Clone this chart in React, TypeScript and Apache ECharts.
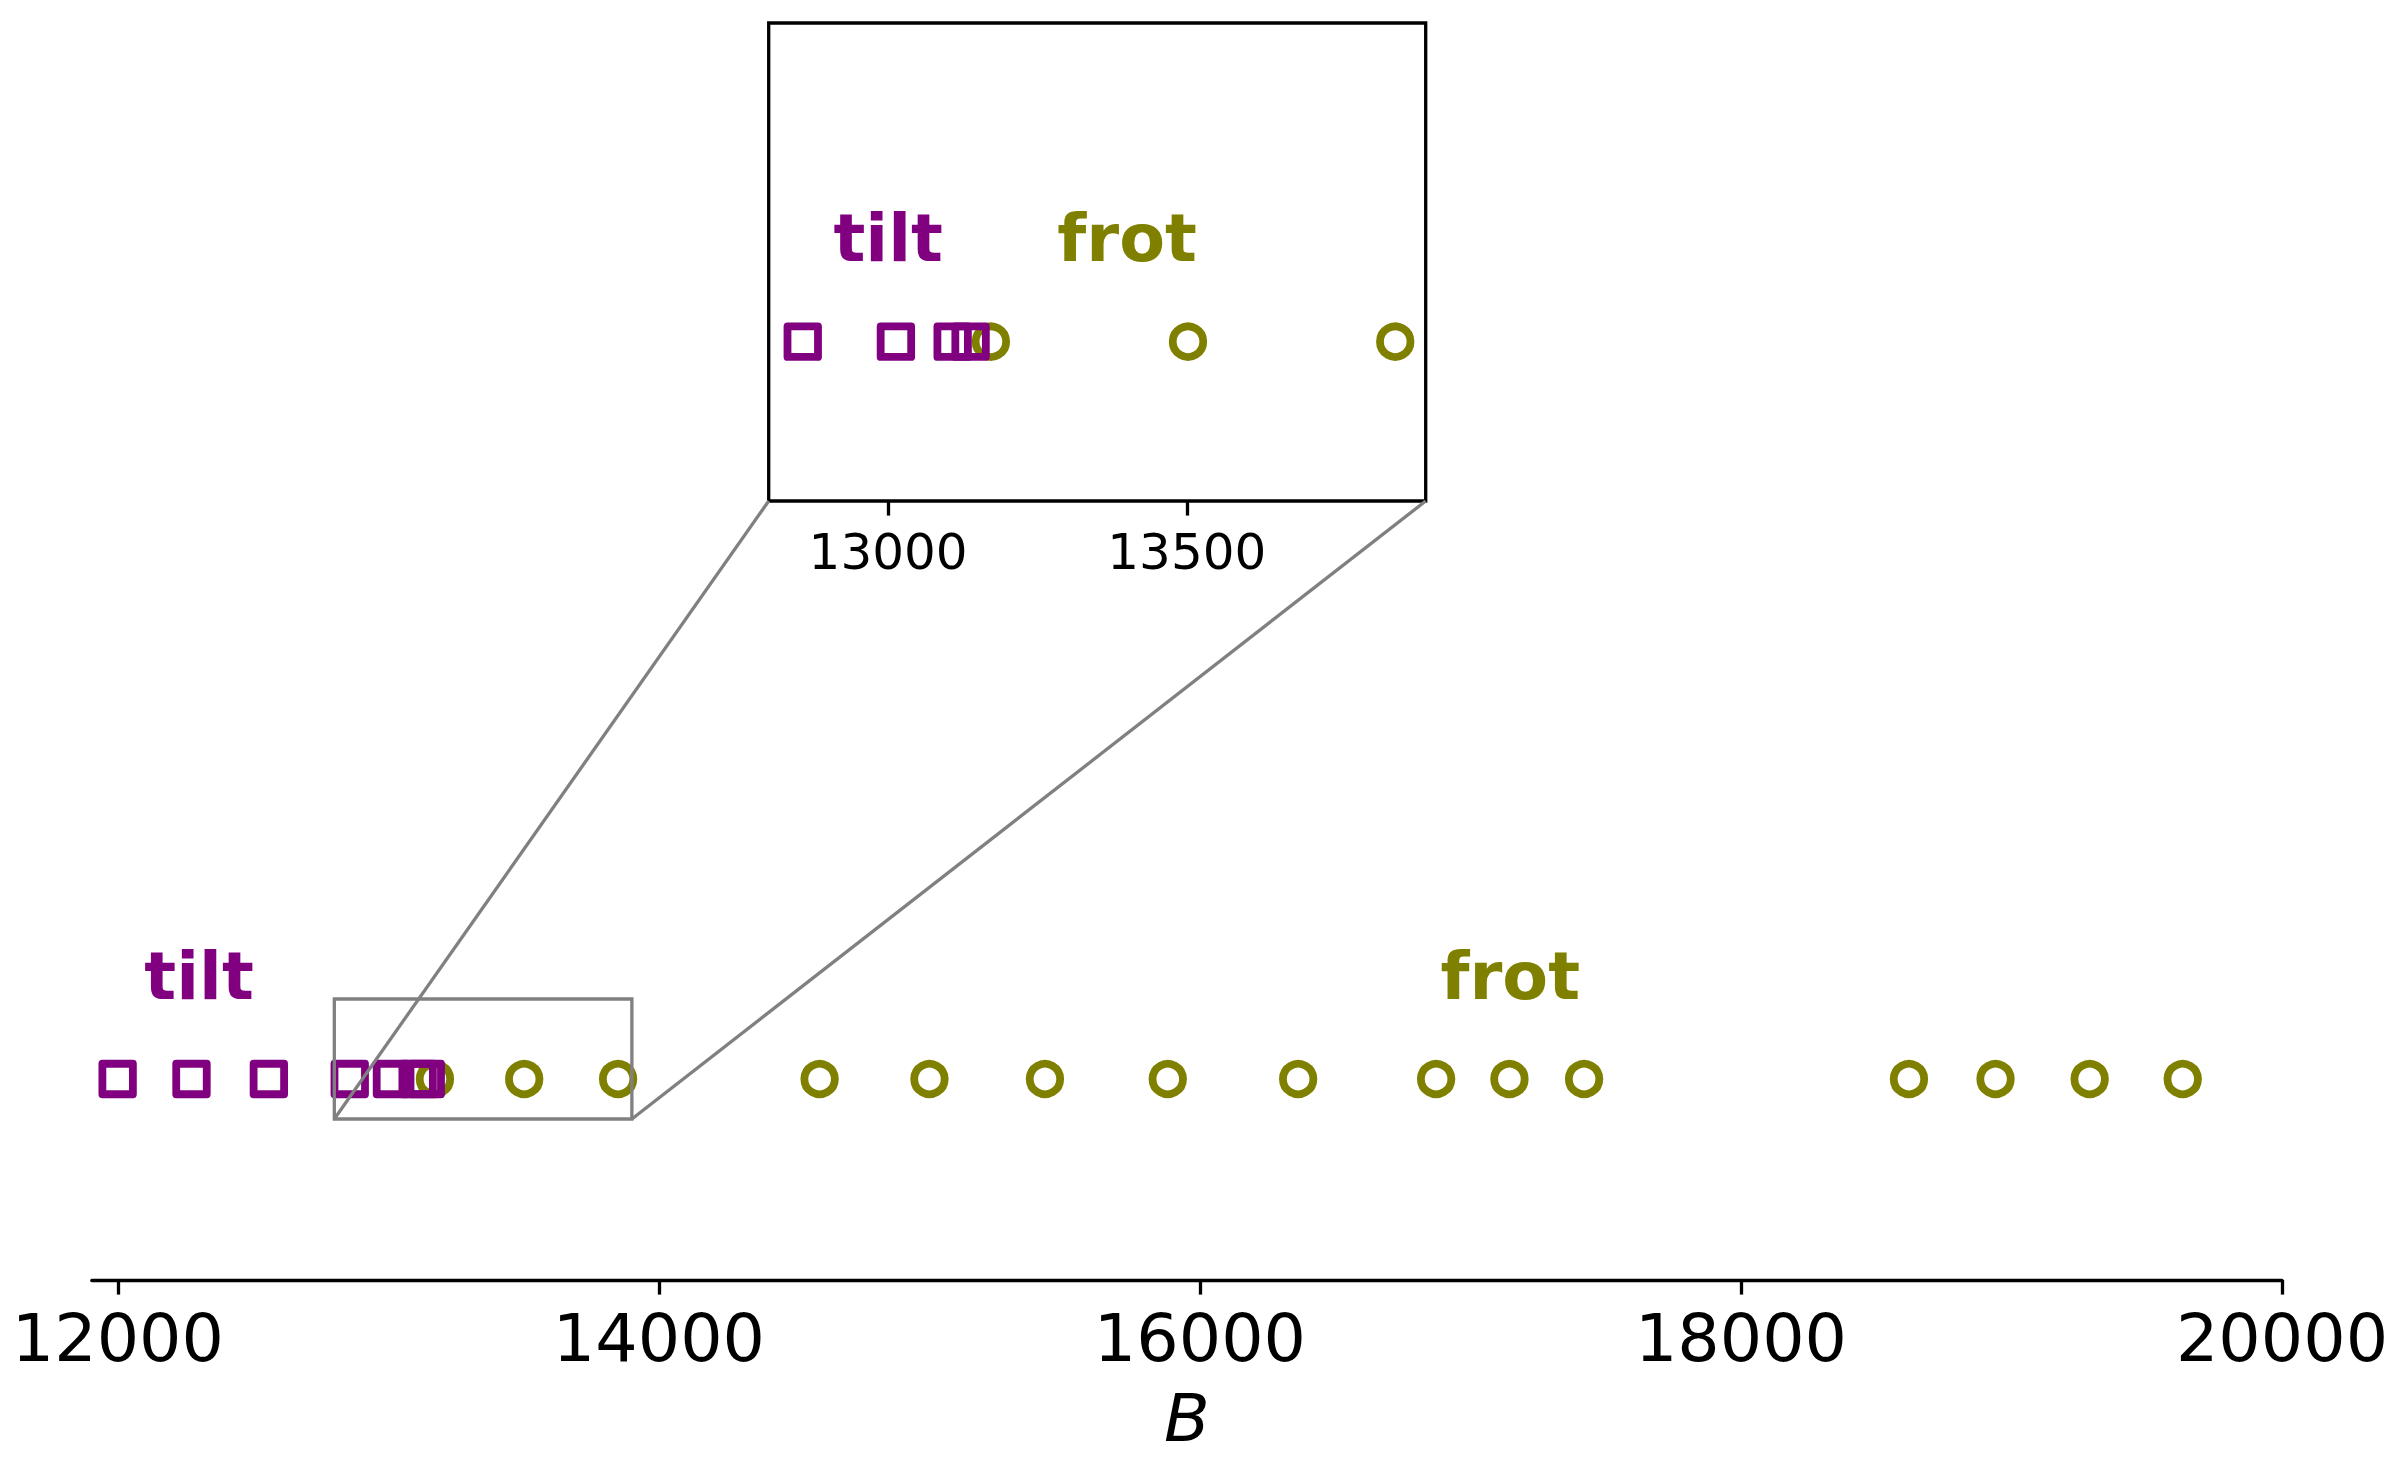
import React, { useEffect, useRef } from "react";
import * as echarts from "echarts";

// ---- data ----
const tiltB = [11999, 12272, 12558, 12857, 13013, 13108, 13138];
const frotB = [
  13172, 13502, 13849, 14594, 15000, 15427, 15881, 16363, 16873, 17144, 17420,
  18621, 18941, 19289, 19633,
];
const mainTicks = [12000, 14000, 16000, 18000, 20000];
const insetTicks = [13000, 13500];
const labelNames = ["tilt", "frot"];
const labelColors = ["#800080", "#808000"];
const mainLabelX = [12300, 17147];
const insetLabelX = [13000, 13400];
const mainXRange = [11903.5, 20000];
const insetXRange = [12800, 13900];
const insetYRange = [-4, 8];

const FONT = "DejaVu Sans";
const PURPLE = "#800080";
const OLIVE = "#808000";

export default function App() {
  const ref = useRef<HTMLDivElement>(null);

  useEffect(() => {
    if (!ref.current) return;
    const chart = echarts.init(ref.current, undefined, { renderer: "svg" });

    const markerStyle = (color: string) => ({
      color: "none",
      borderColor: color,
      borderWidth: 7.8,
      borderJoin: "round",
      opacity: 1,
    });

    const scatter = (
      vals: number[],
      idx: number,
      symbol: string,
      color: string,
      z: number
    ) => ({
      type: "scatter",
      xAxisIndex: idx,
      yAxisIndex: idx,
      data: vals.map((v) => [v, 0]),
      symbol,
      symbolSize: 30.5,
      itemStyle: markerStyle(color),
      clip: true,
      silent: true,
      z,
    });

    const textSeries = (idx: number, xs: number[], y: number) =>
      labelNames.map((name, i) => ({
        type: "scatter",
        xAxisIndex: idx,
        yAxisIndex: idx,
        data: [[xs[i], y]],
        symbolSize: 0,
        silent: true,
        z: 6,
        itemStyle: { opacity: 1, color: labelColors[i] },
        label: {
          show: true,
          position: "inside",
          formatter: name,
          color: labelColors[i],
          opacity: 1,
          fontFamily: FONT,
          fontWeight: "bold",
          fontSize: 66.7,
          align: "center",
          verticalAlign: "middle",
        },
      }));

    const option: any = {
      animation: false,
      backgroundColor: "#ffffff",
      grid: [
        {
          left: 91.8,
          right: 118,
          top: 959,
          height: 321,
          show: false,
        },
        {
          left: 768.7,
          top: 23,
          width: 657,
          height: 478,
          show: true,
          backgroundColor: "#ffffff",
          borderColor: "#000000",
          borderWidth: 3.3,
          z: 0,
        },
      ],
      xAxis: [
        {
          type: "value",
          gridIndex: 0,
          min: mainXRange[0],
          max: mainXRange[1],
          splitLine: { show: false },
          axisLine: {
            show: true,
            onZero: false,
            lineStyle: { color: "#000", width: 3.3 },
          },
          axisTick: {
            show: true,
            customValues: mainTicks,
            length: 14.6,
            lineStyle: { color: "#000", width: 3.3 },
          },
          axisLabel: {
            show: true,
            customValues: mainTicks,
            formatter: (v: number) => String(v),
            fontFamily: FONT,
            fontSize: 66.7,
            color: "#000",
            margin: 24,
          },
          name: "B",
          nameLocation: "middle",
          nameGap: 104,
          nameTextStyle: {
            fontFamily: FONT,
            fontStyle: "italic",
            fontSize: 66.7,
            color: "#000",
          },
        },
        {
          type: "value",
          gridIndex: 1,
          min: insetXRange[0],
          max: insetXRange[1],
          splitLine: { show: false },
          axisLine: { show: false, onZero: false },
          axisTick: {
            show: true,
            customValues: insetTicks,
            length: 14.6,
            lineStyle: { color: "#000", width: 3.3 },
          },
          axisLabel: {
            show: true,
            customValues: insetTicks,
            formatter: (v: number) => String(v),
            fontFamily: FONT,
            fontSize: 50,
            color: "#000",
            margin: 26,
          },
        },
      ],
      yAxis: [
        {
          type: "value",
          gridIndex: 0,
          min: -20.1,
          max: 12,
          show: false,
        },
        {
          type: "value",
          gridIndex: 1,
          min: insetYRange[0],
          max: insetYRange[1],
          show: false,
        },
      ],
      series: [
        scatter(frotB, 0, "circle", OLIVE, 2),
        scatter(tiltB, 0, "rect", PURPLE, 3),
        scatter(frotB, 1, "circle", OLIVE, 2),
        scatter(tiltB, 1, "rect", PURPLE, 3),
        ...textSeries(0, mainLabelX, 10.3),
        ...textSeries(1, insetLabelX, 2.6),
      ],
    };

    chart.setOption(option);

    // inset indicator rectangle and connectors, positioned through the axes
    const bl = chart.convertToPixel({ gridIndex: 0 }, [insetXRange[0], insetYRange[0]]) as number[];
    const tr = chart.convertToPixel({ gridIndex: 0 }, [insetXRange[1], insetYRange[1]]) as number[];
    const br = chart.convertToPixel({ gridIndex: 0 }, [insetXRange[1], insetYRange[0]]) as number[];
    const ibl = chart.convertToPixel({ gridIndex: 1 }, [insetXRange[0], insetYRange[0]]) as number[];
    const ibr = chart.convertToPixel({ gridIndex: 1 }, [insetXRange[1], insetYRange[0]]) as number[];
    const gray = { stroke: "#808080", lineWidth: 3.3, fill: null };

    chart.setOption({
      graphic: [
        {
          type: "rect",
          z: 20,
          shape: { x: bl[0], y: tr[1], width: tr[0] - bl[0], height: bl[1] - tr[1] },
          style: { ...gray, fill: "none" },
          silent: true,
        },
        {
          type: "line",
          z: 20,
          shape: { x1: bl[0], y1: bl[1], x2: ibl[0], y2: ibl[1] },
          style: gray,
          silent: true,
        },
        {
          type: "line",
          z: 20,
          shape: { x1: br[0], y1: br[1], x2: ibr[0], y2: ibr[1] },
          style: gray,
          silent: true,
        },
      ],
    });

    return () => chart.dispose();
  }, []);

  return (
    <div
      ref={ref}
      style={{ position: "fixed", left: 0, top: 0, width: 2400, height: 1470, background: "#fff" }}
    />
  );
}
